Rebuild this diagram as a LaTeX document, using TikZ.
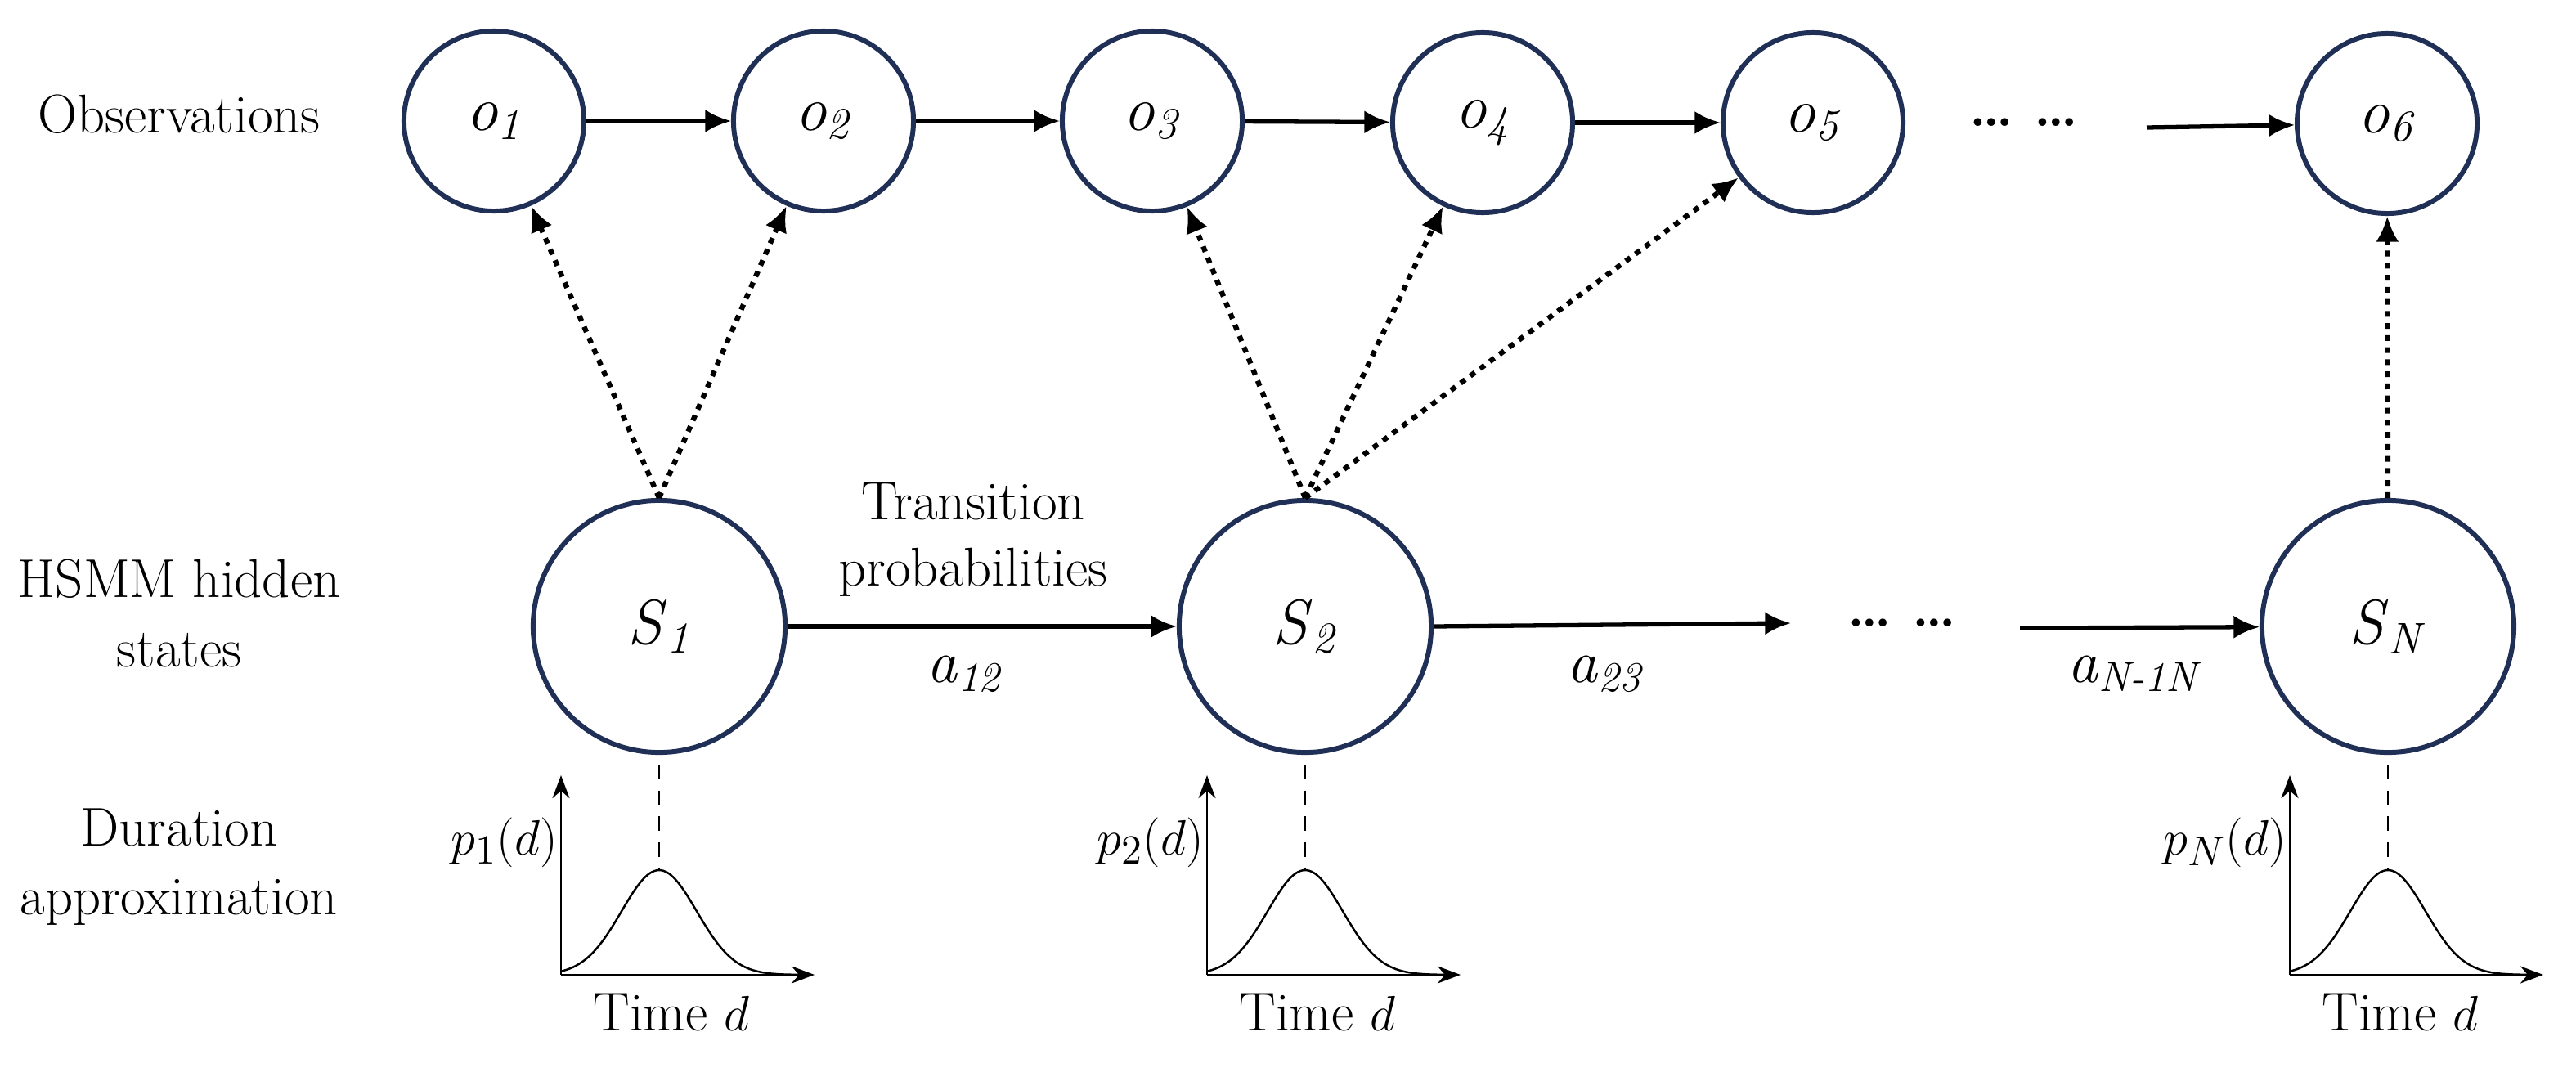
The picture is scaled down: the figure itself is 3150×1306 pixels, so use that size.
\documentclass[tikz,border=0pt]{standalone}
\usetikzlibrary{arrows.meta}
\definecolor{navy}{HTML}{1F2F55}
\newcommand{\lbl}[2]{\textit{#1}\textsubscript{\textit{#2}}}
\begin{document}
\begin{tikzpicture}[x=0.01cm,y=-0.01cm,
  obs/.style={circle,draw=navy,line width=1.7pt,minimum size=2.2cm,inner sep=0pt,font=\fontsize{22}{24}\selectfont},
  st/.style={circle,draw=navy,line width=1.7pt,minimum size=3.08cm,inner sep=0pt,font=\fontsize{22}{24}\selectfont},
  arr/.style={line width=1.5pt,-{Latex[length=9pt,width=8pt]}},
  dot/.style={line width=1.8pt,dash pattern=on 2pt off 2.2pt,-{Latex[length=9pt,width=8pt]}},
  ax/.style={line width=0.7pt,-{Stealth[length=8pt,width=6pt]}},
  side/.style={font=\fontsize{19}{24}\selectfont,align=center},
  txt/.style={font=\fontsize{19}{23}\selectfont,align=center},
  lab/.style={font=\fontsize{21}{23}\selectfont}]
\useasboundingbox (0,0) rectangle (3150,1306);
% side labels
\node[side] (l1) at (219,140) {Observations};
\node[side] (l2) at (219,750) {HSMM hidden\\states};
\node[side] (l3) at (219,1060) {Duration\\approximation};
% observations
\node[obs] (o1) at (604,148) {\lbl{o}{1}};
\node[obs] (o2) at (1007,148) {\lbl{o}{2}};
\node[obs] (o3) at (1409,148) {\lbl{o}{3}};
\node[obs] (o4) at (1813,150) {\lbl{o}{4}};
\node[obs] (o5) at (2217,150) {\lbl{o}{5}};
\node[obs] (o6) at (2919,151) {\lbl{o}{6}};
\node[txt] (od) at (2475,150) {\textbf{\dots\ \dots}};
\coordinate (o6s) at (2625,156);
\draw[arr] (o1) -- (o2);
\draw[arr] (o2) -- (o3);
\draw[arr] (o3) -- (o4);
\draw[arr] (o4) -- (o5);
\draw[arr] (o6s) -- (o6);
% states
\node[st] (s1) at (806,766) {\lbl{S}{1}};
\node[st] (s2) at (1596,766) {\lbl{S}{2}};
\node[st] (sn) at (2920,766) {\lbl{S}{N}};
\node[txt] (sd) at (2326,762) {\textbf{\dots\ \dots}};
\coordinate (e23) at (2190,762);
\coordinate (bn) at (2470,768);
\draw[arr] (s1) -- (s2);
\draw[arr] (s2.east) -- (e23);
\draw[arr] (bn) -- (sn);
\node[txt] (tp) at (1190,660) {Transition\\probabilities};
\node[lab] (a12) at (1180,824) {\lbl{a}{12}};
\node[lab] (a23) at (1964,824) {\lbl{a}{23}};
\node[lab] (an) at (2611,824) {\lbl{a}{N-1N}};
% emissions
\draw[dot] (s1.north) -- (o1);
\draw[dot] (s1.north) -- (o2);
\draw[dot] (s2.north) -- (o3);
\draw[dot] (s2.north) -- (o4);
\draw[dot] (s2.north) -- (o5);
\draw[dot] (sn.north) -- (o6);
% duration plots
\foreach \c/\i/\nm in {806/1/p1,1596/2/p2,2920/N/pn}{
  \coordinate (\nm o) at ({\c-120},1192);
  \coordinate (\nm t) at ({\c-120},948);
  \coordinate (\nm r) at ({\c+190},1192);
  \coordinate (\nm k) at (\c,1064);
  \coordinate (\nm s) at (\c,935);
  \draw[ax] (\nm o) -- (\nm t);
  \draw[ax] (\nm o) -- (\nm r);
  \draw[line width=0.6pt,dash pattern=on 5pt off 4pt] (\nm s) -- (\nm k);
  \draw[line width=0.7pt,domain=-120:170,samples=80,smooth] plot ({\c+\x},{1192-128*exp(-0.5*(\x/46)*(\x/46))});
  \node[txt,anchor=east,inner sep=1pt] (\nm l) at ({\c-120},1030) {$p_{\i}(d)$};
  \node[txt] (\nm x) at ({\c+15},1238) {Time $d$};
}
\end{tikzpicture}
\end{document}
